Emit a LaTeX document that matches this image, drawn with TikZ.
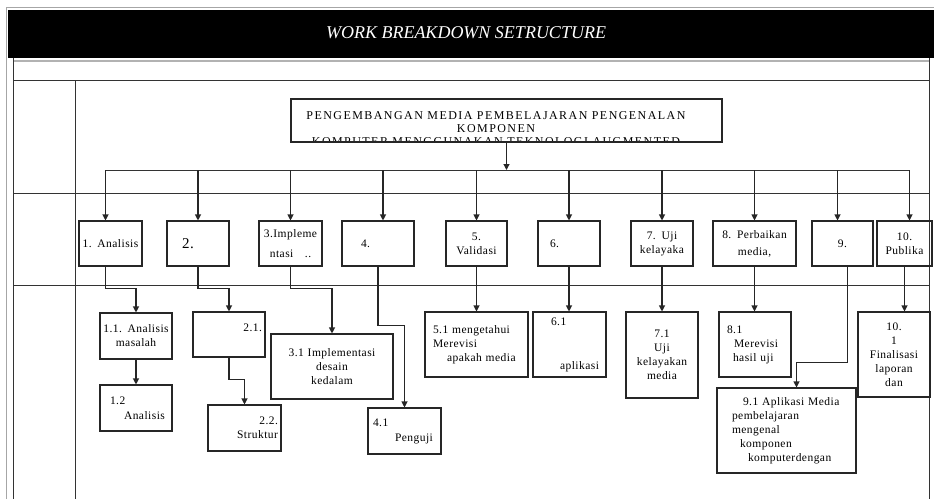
\documentclass[tikz,border=0pt]{standalone}
\usepackage{fontspec}
\setmainfont{Liberation Serif}
\newfontfamily\wbsfont[LetterSpace=4]{Liberation Serif}
\newfontfamily\wbstopfont[LetterSpace=12]{Liberation Serif}
\usetikzlibrary{arrows.meta}

\tikzset{
  wbsbox/.style={draw=black!85,line width=1.1pt,inner sep=3pt,
    font=\wbsfont\fontsize{11.5}{14}\selectfont},
  wbsline/.style={draw=black!80,line width=1pt},
  wbsarrow/.style={draw=black!85,line width=1.1pt,-{Triangle[length=6pt,width=6pt]}},
}

\begin{document}
\begin{tikzpicture}[x=1pt,y=-1pt]
  \useasboundingbox (0,0) rectangle (934,499);
  % frame and title bar
  \draw[black!35,line width=1pt] (6,499) -- (6,7) -- (934,7);
  \fill[black] (8,10) rectangle (934,58);
  \draw[black!30,line width=1.5pt] (13,61) -- (929,61);
  \node[text=white,font=\itshape\fontsize{18}{18}\selectfont] (title) at (466,33) {WORK BREAKDOWN SETRUCTURE};
  \draw[wbsline] (13,58) -- (13,499);
  \draw[wbsline] (929,58) -- (929,499);
  \draw[wbsline] (13,80) -- (929,80);
  \draw[wbsline] (75,80) -- (75,499);
  \draw[wbsline] (13,193) -- (929,193);
  \draw[wbsline] (13,285) -- (929,285);

  % top box, last line cut by the border
  \begin{scope}
    \clip (291,99) rectangle (722,142);
    \node[font=\wbstopfont\fontsize{12}{13}\selectfont,align=center] (toptext) at (496,129)
      {PENGEMBANGAN MEDIA PEMBELAJARAN PENGENALAN\\KOMPONEN\\KOMPUTER MENGGUNAKAN TEKNOLOGI AUGMENTED};
  \end{scope}
  \node[wbsbox,minimum width=431,minimum height=43] (top) at (506.5,120.5) {};

  % level 1
  \node[wbsbox,minimum width=63,minimum height=45,text width=57,align=center] (n1) at (110.5,243.5) {1. Analisis};
  \node[wbsbox,minimum width=62,minimum height=45,text width=56,align=left] (n2) at (198,243.5) {\hspace*{12pt}{\fontsize{15}{15}\selectfont 2.}};
  \node[wbsbox,minimum width=63,minimum height=45,text width=57,align=center] (n3) at (290.5,243.5) {3.Impleme\\[6pt]ntasi\quad..};
  \node[wbsbox,minimum width=72,minimum height=45,text width=66,align=left] (n4) at (378,243.5) {\hspace*{16pt}4.};
  \node[wbsbox,minimum width=61,minimum height=45,text width=55,align=center] (n5) at (476.5,243.5) {5.\\Validasi};
  \node[wbsbox,minimum width=62,minimum height=45,text width=56,align=left] (n6) at (569,243.5) {\hspace*{9pt}6.};
  \node[wbsbox,minimum width=62,minimum height=45,text width=56,align=center] (n7) at (662,243.5) {7. Uji\\kelayaka};
  \node[wbsbox,minimum width=83,minimum height=45,text width=77,align=center] (n8) at (754.5,243.5) {8. Perbaikan\\[3pt]media,};
  \node[wbsbox,minimum width=61,minimum height=45,text width=55,align=center] (n9) at (842.5,243.5) {9.};
  \node[wbsbox,minimum width=55,minimum height=45,text width=49,align=center] (n10) at (904.5,243.5) {10.\\Publika};

  % level 2
  \node[wbsbox,minimum width=72,minimum height=46,text width=66,align=center] (a11) at (136,336) {1.1. Analisis\\masalah};
  \node[wbsbox,minimum width=72,minimum height=46,text width=66,align=left] (a12) at (136,408) {\hspace*{7pt}1.2\\[1pt]\hspace*{21pt}Analisis};
  \node[wbsbox,minimum width=72,minimum height=45,text width=66,align=right] (a21) at (229,334.5) {2.1.\hspace*{9pt}\\\mbox{}};
  \node[wbsbox,minimum width=73,minimum height=46,text width=67,align=right] (a22) at (244.5,428) {2.2.\hspace*{6pt}\\Struktur\hspace*{6pt}};
  \node[wbsbox,minimum width=122,minimum height=65,text width=116,align=center] (a31) at (332,366.5) {3.1 Implementasi\\desain\\kedalam};
  \node[wbsbox,minimum width=73,minimum height=46,text width=67,align=left] (a41) at (404.5,431) {\hspace*{2pt}4.1\\[1pt]\hspace*{24pt}Penguji};
  \node[wbsbox,minimum width=103,minimum height=65,text width=97,align=left] (a51) at (476.5,344.5) {\hspace*{5pt}5.1 mengetahui\\\hspace*{5pt}Merevisi\\\hspace*{19pt}apakah media};
  \node[wbsbox,minimum width=73,minimum height=65,text width=67,align=left] (a61) at (569.5,344.5) {\hspace*{15pt}6.1\\[30pt]\hspace*{24pt}aplikasi};
  \node[wbsbox,minimum width=72,minimum height=86,text width=66,align=center] (a71) at (662,355) {7.1\\Uji\\kelayakan\\media};
  \node[wbsbox,minimum width=72,minimum height=65,text width=66,align=left] (a81) at (755,344.5) {\hspace*{5pt}8.1\\\hspace*{12pt}Merevisi\\\hspace*{11pt}hasil uji};
  \node[wbsbox,minimum width=139,minimum height=85,text width=133,align=left] (a91) at (786.5,430.5) {\hspace*{23pt}9.1 Aplikasi Media\\\hspace*{12pt}pembelajaran\\\hspace*{12pt}mengenal\\\hspace*{20pt}komponen\\\hspace*{28pt}komputerdengan};
  \node[wbsbox,minimum width=72,minimum height=85,text width=66,align=center] (a101) at (894,354.5) {10.\\1\\Finalisasi\\laporan\\dan};

  % bus from the top box
  \coordinate (busL) at (105,170);
  \coordinate (busR) at (910,170);
  \draw[wbsarrow] (top.south) -- (top.south |- busL);
  \draw[wbsline] (busL) -- (busR);
  \foreach \n/\s in {n1/-5,n2/0,n3/0,n4/5,n5/0,n6/0,n7/0,n8/0,n9/-5,n10/5}{%
    \draw[wbsarrow] ([xshift=\s]\n.north |- busL) -- ([xshift=\s]\n.north);}

  % level 1 to level 2
  \draw[wbsarrow] ([xshift=-5]n1.south) -- ++(0,22) -| (a11.north);
  \draw[wbsarrow] (a11.south) -- (a12.north);
  \draw[wbsarrow] (n2.south) -- ++(0,22) -| (a21.north);
  \draw[wbsarrow] (a21.south) -- ++(0,22) -| (a22.north);
  \draw[wbsarrow] (n3.south) -- ++(0,22) -| (a31.north);
  \draw[wbsarrow] (n4.south) -- ++(0,59) -| (a41.north);
  \draw[wbsarrow] (n5.south) -- (n5.south |- a51.north);
  \draw[wbsarrow] (n6.south) -- (n6.south |- a61.north);
  \draw[wbsarrow] (n7.south) -- (n7.south |- a71.north);
  \draw[wbsarrow] (n8.south) -- (n8.south |- a81.north);
  \draw[wbsarrow] ([xshift=5]n9.south) -- ++(0,96) -| ([xshift=10]a91.north);
  \draw[wbsarrow] (n10.south) -- (n10.south |- a101.north);
\end{tikzpicture}
\end{document}
